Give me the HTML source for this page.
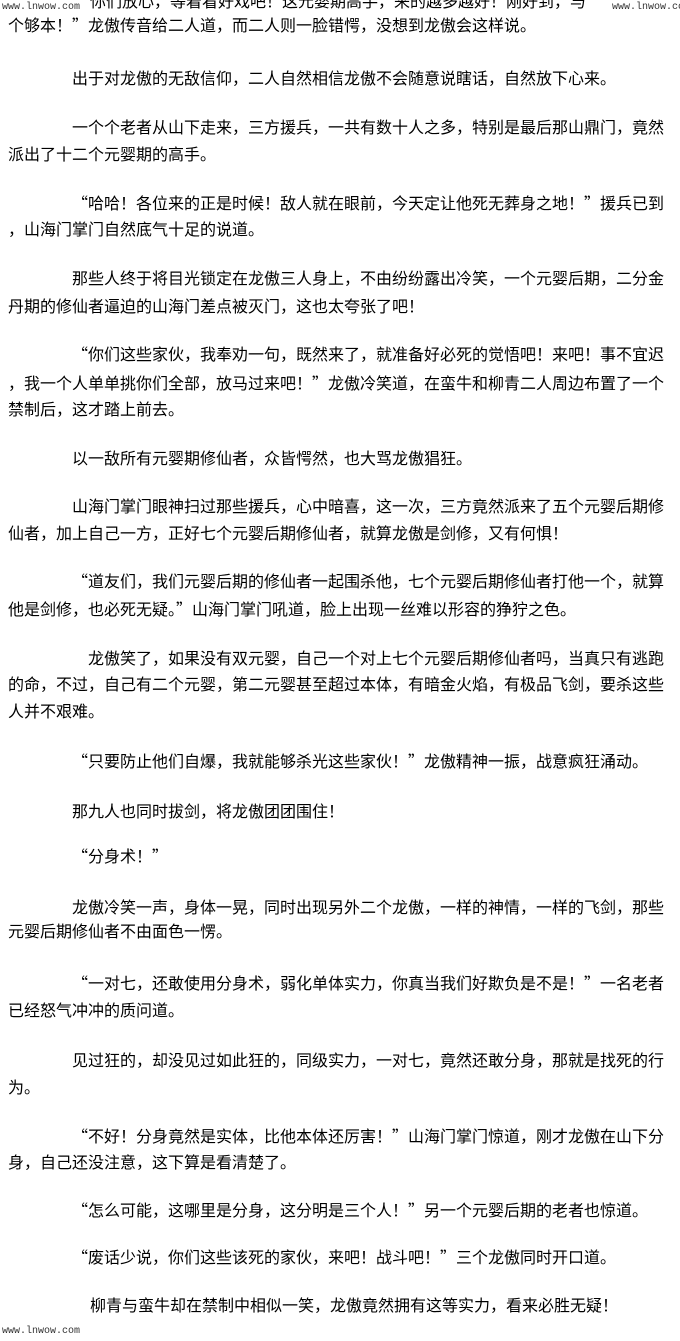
<!DOCTYPE html>
<html><head><meta charset="utf-8"><style>
body{margin:0;width:680px;height:1341px;background:#fff;position:relative;overflow:hidden;font-family:"Noto Sans CJK SC","Liberation Sans",sans-serif;color:#000;}
.l{position:absolute;font-size:16px;line-height:20px;white-space:nowrap;}
.w{position:absolute;font-family:"Liberation Mono",monospace;font-size:10px;color:#333;white-space:nowrap;}
</style></head><body>
<div class="l" style="left:90px;top:-10px">你们放心，等着看好戏吧！这元婴期高手，来的越多越好！刚好到，与</div>
<div class="w" style="left:2px;top:2px;background:#fff">www.lnwow.com</div>
<div class="w" style="left:612px;top:2px;background:#fff">www.lnwow.com</div>
<div class="l" style="left:8px;top:14px">个够本！”龙傲传音给二人道，而二人则一脸错愕，没想到龙傲会这样说。</div>
<div class="l" style="left:72px;top:67px">出于对龙傲的无敌信仰，二人自然相信龙傲不会随意说瞎话，自然放下心来。</div>
<div class="l" style="left:72px;top:116px">一个个老者从山下走来，三方援兵，一共有数十人之多，特别是最后那山鼎门，竟然</div>
<div class="l" style="left:8px;top:143px">派出了十二个元婴期的高手。</div>
<div class="l" style="left:72px;top:192px">“哈哈！各位来的正是时候！敌人就在眼前，今天定让他死无葬身之地！”援兵已到</div>
<div class="l" style="left:8px;top:218px">，山海门掌门自然底气十足的说道。</div>
<div class="l" style="left:72px;top:267px">那些人终于将目光锁定在龙傲三人身上，不由纷纷露出冷笑，一个元婴后期，二分金</div>
<div class="l" style="left:8px;top:295px">丹期的修仙者逼迫的山海门差点被灭门，这也太夸张了吧！</div>
<div class="l" style="left:72px;top:343px">“你们这些家伙，我奉劝一句，既然来了，就准备好必死的觉悟吧！来吧！事不宜迟</div>
<div class="l" style="left:8px;top:372px">，我一个人单单挑你们全部，放马过来吧！”龙傲冷笑道，在蛮牛和柳青二人周边布置了一个</div>
<div class="l" style="left:8px;top:398px">禁制后，这才踏上前去。</div>
<div class="l" style="left:72px;top:447px">以一敌所有元婴期修仙者，众皆愕然，也大骂龙傲猖狂。</div>
<div class="l" style="left:72px;top:495px">山海门掌门眼神扫过那些援兵，心中暗喜，这一次，三方竟然派来了五个元婴后期修</div>
<div class="l" style="left:8px;top:522px">仙者，加上自己一方，正好七个元婴后期修仙者，就算龙傲是剑修，又有何惧！</div>
<div class="l" style="left:72px;top:570px">“道友们，我们元婴后期的修仙者一起围杀他，七个元婴后期修仙者打他一个，就算</div>
<div class="l" style="left:8px;top:598px">他是剑修，也必死无疑。”山海门掌门吼道，脸上出现一丝难以形容的狰狞之色。</div>
<div class="l" style="left:88px;top:647px">龙傲笑了，如果没有双元婴，自己一个对上七个元婴后期修仙者吗，当真只有逃跑</div>
<div class="l" style="left:8px;top:673px">的命，不过，自己有二个元婴，第二元婴甚至超过本体，有暗金火焰，有极品飞剑，要杀这些</div>
<div class="l" style="left:8px;top:700px">人并不艰难。</div>
<div class="l" style="left:72px;top:750px">“只要防止他们自爆，我就能够杀光这些家伙！”龙傲精神一振，战意疯狂涌动。</div>
<div class="l" style="left:72px;top:800px">那九人也同时拔剑，将龙傲团团围住！</div>
<div class="l" style="left:72px;top:845px">“分身术！”</div>
<div class="l" style="left:72px;top:896px">龙傲冷笑一声，身体一晃，同时出现另外二个龙傲，一样的神情，一样的飞剑，那些</div>
<div class="l" style="left:8px;top:920px">元婴后期修仙者不由面色一愣。</div>
<div class="l" style="left:72px;top:972px">“一对七，还敢使用分身术，弱化单体实力，你真当我们好欺负是不是！”一名老者</div>
<div class="l" style="left:8px;top:999px">已经怒气冲冲的质问道。</div>
<div class="l" style="left:72px;top:1049px">见过狂的，却没见过如此狂的，同级实力，一对七，竟然还敢分身，那就是找死的行</div>
<div class="l" style="left:8px;top:1076px">为。</div>
<div class="l" style="left:72px;top:1125px">“不好！分身竟然是实体，比他本体还厉害！”山海门掌门惊道，刚才龙傲在山下分</div>
<div class="l" style="left:8px;top:1151px">身，自己还没注意，这下算是看清楚了。</div>
<div class="l" style="left:72px;top:1199px">“怎么可能，这哪里是分身，这分明是三个人！”另一个元婴后期的老者也惊道。</div>
<div class="l" style="left:72px;top:1246px">“废话少说，你们这些该死的家伙，来吧！战斗吧！”三个龙傲同时开口道。</div>
<div class="l" style="left:90px;top:1294px">柳青与蛮牛却在禁制中相似一笑，龙傲竟然拥有这等实力，看来必胜无疑！</div>
<div class="w" style="left:2px;top:1326px">www.lnwow.com</div>
</body></html>
